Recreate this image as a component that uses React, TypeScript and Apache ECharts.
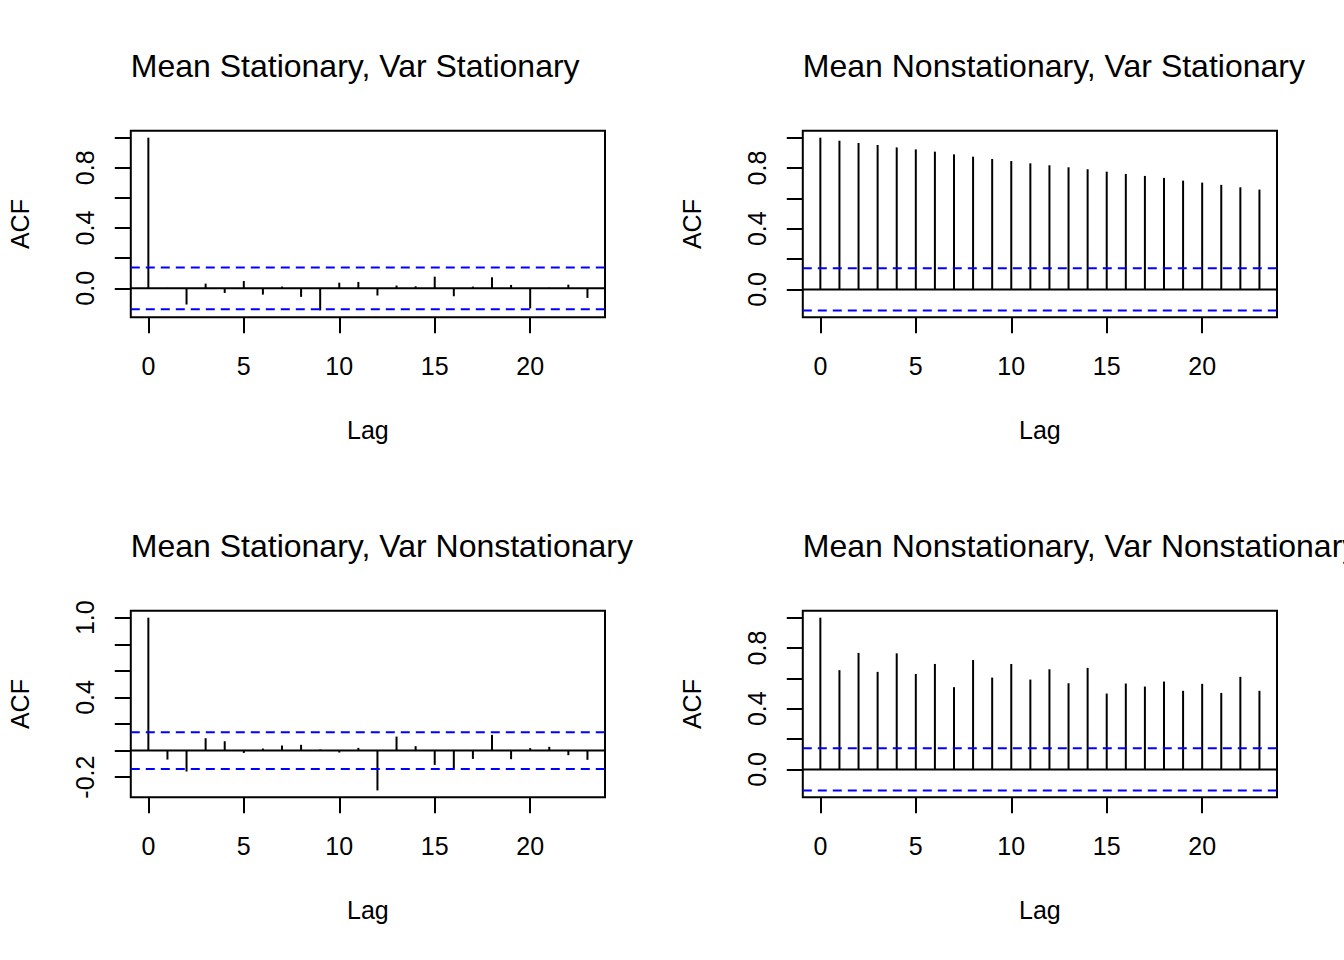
import React, { useEffect, useRef } from "react";
import * as echarts from "echarts";

const lags = [0, 1, 2, 3, 4, 5, 6, 7, 8, 9, 10, 11, 12, 13, 14, 15, 16, 17, 18, 19, 20, 21, 22, 23];

const acfMeanStatVarStat = [
  1.0, 0.003, -0.108, 0.031, -0.031, 0.048, -0.042, 0.011, -0.057, -0.147, 0.037, 0.042,
  -0.048, 0.018, 0.013, 0.077, -0.053, 0.011, 0.073, 0.022, -0.134, 0.004, 0.024, -0.064,
];
const acfMeanNonstatVarStat = [
  1.0, 0.98, 0.965, 0.952, 0.936, 0.923, 0.908, 0.89, 0.875, 0.86, 0.846, 0.831,
  0.818, 0.805, 0.792, 0.776, 0.761, 0.748, 0.735, 0.717, 0.704, 0.689, 0.673, 0.658,
];
const acfMeanStatVarNonstat = [
  1.0, -0.068, -0.158, 0.093, 0.07, -0.018, 0.015, 0.038, 0.043, 0.008, -0.015, 0.02,
  -0.3, 0.105, 0.033, -0.108, -0.133, -0.063, 0.118, -0.065, 0.018, 0.028, -0.035, -0.07,
];
const acfMeanNonstatVarNonstat = [
  1.0, 0.654, 0.768, 0.643, 0.765, 0.629, 0.695, 0.542, 0.721, 0.605, 0.695, 0.592,
  0.66, 0.568, 0.669, 0.5, 0.566, 0.546, 0.579, 0.518, 0.564, 0.504, 0.61, 0.518,
];

const ciLevel = 0.1386;

const panelTitles = [
  "Mean Stationary, Var Stationary",
  "Mean Nonstationary, Var Stationary",
  "Mean Stationary, Var Nonstationary",
  "Mean Nonstationary, Var Nonstationary",
];

const xTicks = [0, 5, 10, 15, 20];
const yTicksStd = [0, 0.2, 0.4, 0.6, 0.8, 1.0];
const yLabelsStd = [0, 0.4, 0.8];
const yTicksWide = [-0.2, 0, 0.2, 0.4, 0.6, 0.8, 1.0];
const yLabelsWide = [-0.2, 0.4, 1.0];

const FONT = "Liberation Sans, Arial, Helvetica, sans-serif";

export default function App() {
  const ref = useRef<HTMLDivElement>(null);

  useEffect(() => {
    if (!ref.current) return;
    const chart = echarts.init(ref.current, null, { renderer: "svg" });

    const panels = [
      { acf: acfMeanStatVarStat, yTicks: yTicksStd, yLabels: yLabelsStd },
      { acf: acfMeanNonstatVarStat, yTicks: yTicksStd, yLabels: yLabelsStd },
      { acf: acfMeanStatVarNonstat, yTicks: yTicksWide, yLabels: yLabelsWide },
      { acf: acfMeanNonstatVarNonstat, yTicks: yTicksStd, yLabels: yLabelsStd },
    ];

    const lagMin = Math.min(...lags);
    const lagMax = Math.max(...lags);
    const xPad = (lagMax - lagMin) * 0.04;
    const xMin = lagMin - xPad;
    const xMax = lagMax + xPad;

    const cellW = 672;
    const cellH = 480;
    const line = 31.9;
    const plotLeft = 4.1 * line;
    const plotTop = 4.1 * line;
    const plotW = cellW - (4.1 + 2.1) * line;
    const plotH = cellH - (4.1 + 5.1) * line;

    const grids: any[] = [];
    const xAxes: any[] = [];
    const yAxes: any[] = [];
    const series: any[] = [];
    const titles: any[] = [];

    panels.forEach((p, i) => {
      const col = i % 2;
      const row = Math.floor(i / 2);
      const left = col * cellW + plotLeft;
      const top = row * cellH + plotTop;
      const lo = Math.min(-ciLevel, ...p.acf);
      const hi = Math.max(ciLevel, ...p.acf);
      const yPad = (hi - lo) * 0.04;

      grids.push({
        left,
        top,
        width: plotW,
        height: plotH,
        show: true,
        borderColor: "#000",
        borderWidth: 2,
        backgroundColor: "transparent",
        containLabel: false,
      });
      titles.push({
        text: panelTitles[i],
        left: left,
        top: row * cellH + 50,
        padding: 0,
        textStyle: { fontSize: 32, fontWeight: "normal", color: "#000", fontFamily: FONT },
      });
      xAxes.push({
        type: "value",
        gridIndex: i,
        position: "bottom",
        min: xMin,
        max: xMax,
        axisLine: { show: false, onZero: false },
        splitLine: { show: false },
        axisTick: {
          show: true,
          customValues: xTicks,
          length: 16,
          lineStyle: { color: "#000", width: 2 },
        },
        axisLabel: {
          customValues: xTicks,
          margin: 36,
          fontSize: 25,
          color: "#000",
          fontFamily: FONT,
        },
        name: "Lag",
        nameLocation: "middle",
        nameGap: 100,
        nameTextStyle: { fontSize: 25, color: "#000", fontFamily: FONT },
      });
      yAxes.push({
        type: "value",
        gridIndex: i,
        position: "left",
        min: lo - yPad,
        max: hi + yPad,
        axisLine: { show: false, onZero: false },
        splitLine: { show: false },
        axisTick: {
          show: true,
          customValues: p.yTicks,
          length: 16,
          lineStyle: { color: "#000", width: 2 },
        },
        axisLabel: {
          customValues: p.yLabels,
          rotate: 90,
          margin: 33,
          fontSize: 25,
          color: "#000",
          fontFamily: FONT,
          formatter: (v: number) => v.toFixed(1),
        },
        name: "ACF",
        nameLocation: "middle",
        nameRotate: 90,
        nameGap: 98,
        nameTextStyle: { fontSize: 25, color: "#000", fontFamily: FONT },
      });

      series.push({
        type: "custom",
        xAxisIndex: i,
        yAxisIndex: i,
        silent: true,
        data: lags.map((l, k) => [l, p.acf[k]]),
        renderItem: (params: any, api: any) => {
          const x = api.value(0);
          const y = api.value(1);
          const p0 = api.coord([x, 0]);
          const p1 = api.coord([x, y]);
          return {
            type: "line",
            shape: { x1: p0[0], y1: p0[1], x2: p1[0], y2: p1[1] },
            style: { stroke: "#000", lineWidth: 2 },
          };
        },
      });
      series.push({
        type: "line",
        xAxisIndex: i,
        yAxisIndex: i,
        silent: true,
        showSymbol: false,
        symbol: "none",
        data: [
          [xMin, 0],
          [xMax, 0],
        ],
        lineStyle: { color: "#000", width: 2 },
      });
      [ciLevel, -ciLevel].forEach((c) => {
        series.push({
          type: "line",
          xAxisIndex: i,
          yAxisIndex: i,
          silent: true,
          showSymbol: false,
          symbol: "none",
          data: [
            [xMin, c],
            [xMax, c],
          ],
          lineStyle: { color: "#0000FF", width: 2, type: [9, 6] },
        });
      });
    });

    chart.setOption({
      animation: false,
      backgroundColor: "#fff",
      title: titles,
      grid: grids,
      xAxis: xAxes,
      yAxis: yAxes,
      series,
    });

    return () => chart.dispose();
  }, []);

  return (
    <div
      ref={ref}
      style={{ position: "fixed", left: 0, top: 0, width: 1344, height: 960 }}
    />
  );
}
